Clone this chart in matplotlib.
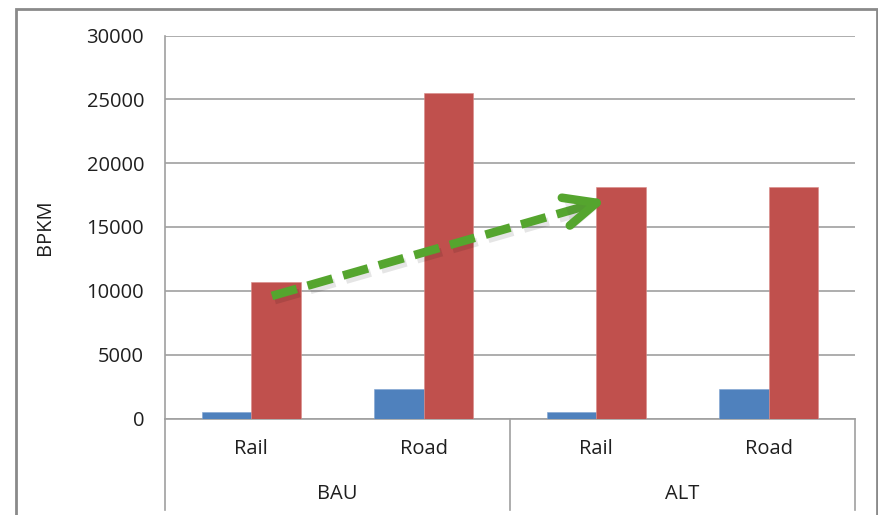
"""Rail vs road passenger-km under BAU and ALT scenarios (Excel-style clustered bars)."""

import matplotlib

matplotlib.use("Agg")
import matplotlib.pyplot as plt
import matplotlib.patheffects as pe
from matplotlib.patches import FancyArrowPatch, Rectangle

# data
scenarios = ["BAU", "ALT"]
modes = ["Rail", "Road"]
series_small = [485, 2290, 485, 2290]       # blue series
series_large = [10715, 25470, 18150, 18150]  # red series
y_ticks = [0, 5000, 10000, 15000, 20000, 25000, 30000]
# arrow: from BAU rail to ALT rail (slot index, value)
arrow_start = (0.12, 9600)
arrow_end = (2.06, 17120)

BLUE = "#4F81BD"
RED = "#C0504D"
GREEN = "#55A52E"
GRID = "#A0A0A0"
TEXT = "#1F1F1F"
FS = 14.5

plt.rcParams["font.family"] = ["Open Sans", "DejaVu Sans"]

fig = plt.figure(figsize=(8.79, 5.15), dpi=100)
ax = fig.add_axes([165 / 879, 96.5 / 515, 690 / 879, 383 / 515])

n = len(series_large)
x = list(range(n))
width = 1 / 3.5
ax.bar([i - width / 2 for i in x], series_small, width=width, color=BLUE,
       edgecolor="#7FA3D1", linewidth=0.4, zorder=3)
ax.bar([i + width / 2 for i in x], series_large, width=width, color=RED,
       edgecolor="#D98A88", linewidth=0.4, zorder=3)

ax.set_xlim(-0.5, n - 0.5)
ax.set_ylim(0, 30000)
ax.set_yticks(y_ticks, [str(v) for v in y_ticks])
ax.set_xticks([])
ax.tick_params(axis="y", length=0, pad=15, labelsize=FS, labelcolor=TEXT)
ax.yaxis.grid(True, color=GRID, linewidth=1.2, zorder=0)
ax.set_axisbelow(True)

for side in ("top", "right"):
    ax.spines[side].set_visible(False)
for side in ("left", "bottom"):
    ax.spines[side].set_color(GRID)
    ax.spines[side].set_linewidth(1.2)

ax.set_ylabel("BPKM", fontsize=FS, color=TEXT)
ax.yaxis.set_label_coords(-0.159, 0.5)

# multi-level category axis
trans = ax.get_xaxis_transform()
sep_bottom = -(510 - 418.5) / 383
for xs in (-0.5, 1.5, 3.5):
    ax.plot([xs, xs], [0, sep_bottom], transform=trans, color=GRID,
            linewidth=1.2, clip_on=False)
labels = [m for _ in scenarios for m in modes]
for i, lab in enumerate(labels):
    ax.text(i, -(449 - 418.5) / 383, lab, transform=trans, ha="center",
            va="center", fontsize=FS, color=TEXT)
for g, sc in enumerate(scenarios):
    ax.text(g * 2 + 0.5, -(494 - 418.5) / 383, sc, transform=trans,
            ha="center", va="center", fontsize=FS, color=TEXT)

# green dashed trend arrow
shadow = [pe.SimpleLineShadow(offset=(2, -3), shadow_color="black", alpha=0.1),
          pe.Normal()]
tail_end = (arrow_start[0] + (arrow_end[0] - arrow_start[0]) * 0.92,
            arrow_start[1] + (arrow_end[1] - arrow_start[1]) * 0.92)
ax.plot([arrow_start[0], tail_end[0]], [arrow_start[1], tail_end[1]],
        color=GREEN, linewidth=6.2, dashes=(3.0, 1.3), solid_capstyle="butt",
        zorder=5, path_effects=shadow)
head = FancyArrowPatch(tail_end, arrow_end, arrowstyle="->,head_length=1.15,head_width=0.52",
                       mutation_scale=20, color=GREEN, linewidth=6.2,
                       shrinkA=0, shrinkB=0, capstyle="round", joinstyle="round",
                       zorder=5,
                       path_effects=[pe.SimplePatchShadow(offset=(2, -3), alpha=0.1),
                                     pe.Normal()])
ax.add_patch(head)

# outer chart frame
fig.patches.append(Rectangle((16 / 879, -0.05), (877 - 16) / 879, 1.05 - 9 / 515,
                             transform=fig.transFigure, fill=False,
                             edgecolor="#8A8A8A", linewidth=2.0))

fig.savefig("out.png", dpi=100)
